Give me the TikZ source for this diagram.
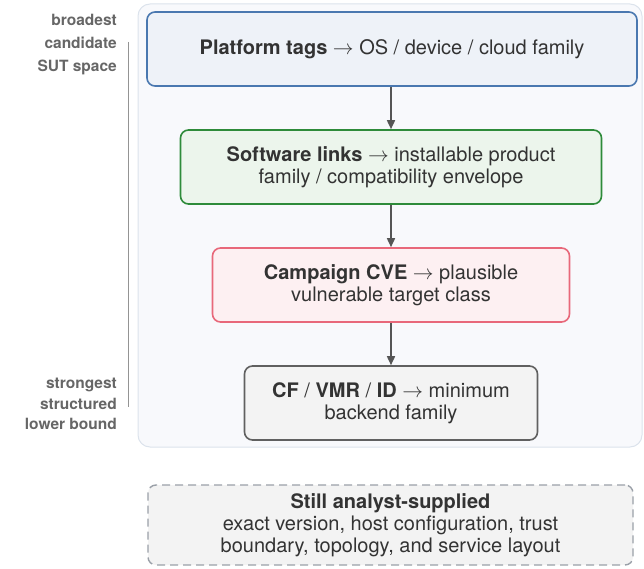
\documentclass[tikz,border=0pt]{standalone}
\usepackage{fontspec}
\setmainfont{TeX Gyre Heros}
\usetikzlibrary{arrows.meta}
\definecolor{txt}{HTML}{333333}
\definecolor{sidegray}{HTML}{666666}
\definecolor{contfill}{HTML}{F8F9FC}
\definecolor{contdraw}{HTML}{DCE3EC}
\definecolor{bluefill}{HTML}{EEF2F8}
\definecolor{bluedraw}{HTML}{4A78B0}
\definecolor{greenfill}{HTML}{ECF5EC}
\definecolor{greendraw}{HTML}{2E8B3A}
\definecolor{redfill}{HTML}{FDF0F2}
\definecolor{reddraw}{HTML}{E8687A}
\definecolor{grayfill}{HTML}{F3F3F3}
\definecolor{graydraw}{HTML}{606060}
\definecolor{dashdraw}{HTML}{9AA0A8}
\definecolor{arrowcol}{HTML}{555555}
\tikzset{
  stagebox/.style={rounded corners=8pt, line width=1.6pt, align=center, text=txt,
    font=\fontsize{20}{22}\selectfont, inner sep=0pt},
  flow/.style={draw=arrowcol, line width=1.6pt, -{Triangle[length=9pt,width=8pt]}},
  sidelabel/.style={align=right, anchor=east, text=sidegray, inner sep=0pt}
}
\begin{document}
\begin{tikzpicture}[x=1pt,y=-1pt]
\useasboundingbox (0,0) rectangle (644,569);
% container
\path[fill=contfill, draw=contdraw, line width=1pt, rounded corners=12pt] (138,4) rectangle (642,447);
% stages
\node[stagebox, fill=bluefill, draw=bluedraw, minimum width=490pt, minimum height=74pt] (plat) at (392,49)
  {\textbf{Platform tags} $\rightarrow$ OS / device / cloud family};
\node[stagebox, fill=greenfill, draw=greendraw, minimum width=421pt, minimum height=74pt] (soft) at (391,167)
  {\textbf{Software links} $\rightarrow$ installable product\\family / compatibility envelope};
\node[stagebox, fill=redfill, draw=reddraw, minimum width=357pt, minimum height=74pt] (camp) at (391,285)
  {\textbf{Campaign CVE} $\rightarrow$ plausible\\vulnerable target class};
\node[stagebox, fill=grayfill, draw=graydraw, minimum width=293pt, minimum height=74pt] (cf) at (391,403)
  {\textbf{CF} / \textbf{VMR} / \textbf{ID} $\rightarrow$ minimum\\backend family};
% arrows
\draw[flow] (plat.south -| cf.north) -- (soft.north -| cf.north);
\draw[flow] (soft.south -| cf.north) -- (camp.north -| cf.north);
\draw[flow] (camp.south -| cf.north) -- (cf.north);
% side labels
\node[sidelabel, font=\fontsize{15.5}{23}\selectfont\bfseries] (broad) at (117,45) {broadest\\candidate\\SUT space};
\node[sidelabel, font=\fontsize{15.5}{20.5}\selectfont\bfseries] (strong) at (117,404) {strongest\\structured\\lower bound};
\coordinate (lt) at (128,42);
\coordinate (lb) at (128,407);
\draw[draw=sidegray!70, line width=0.8pt] (lt) -- (lb);
% analyst box
\node[stagebox, fill=grayfill, draw=dashdraw, dashed, dash pattern=on 8pt off 5pt, line width=1.4pt,
  minimum width=485pt, minimum height=80pt] (still) at (390.5,525)
  {\textbf{Still analyst-supplied}\\exact version, host configuration, trust\\boundary, topology, and service layout};
\end{tikzpicture}
\end{document}
